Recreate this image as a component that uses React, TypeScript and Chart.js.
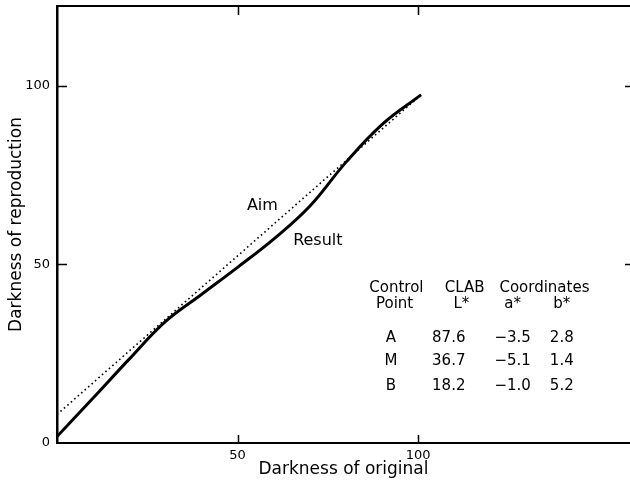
import React, { useEffect, useRef } from 'react';
import { Chart, registerables } from 'chart.js';

Chart.register(...registerables);

// ---- data ----
const aimX = [0, 100.8];
const aimY = [8, 97.5];
const resultX = [0, 10, 20, 30, 40, 50, 60, 70, 80, 90, 100.8];
const resultY = [1.8, 12.6, 23.5, 34.0, 41.6, 49.2, 57.1, 66.3, 78.6, 89.2, 97.5];
const xTicks = [50, 100];
const yTicks = [0, 50, 100];
const xTitle = 'Darkness of original';
const yTitle = 'Darkness of reproduction';
const curveLabels = ['Aim', 'Result'];
const tableHeader1 = ['Control', 'CLAB', 'Coordinates'];
const tableHeader2 = ['Point', 'L*', 'a*', 'b*'];
const controlPoints = ['A', 'M', 'B'];
const lStar = ['87.6', '36.7', '18.2'];
const aStar = ['−3.5', '−5.1', '−1.0'];
const bStar = ['2.8', '1.4', '5.2'];

const FONT = "'DejaVu Sans', sans-serif";

const framePlugin = {
  id: 'frameAndNotes',
  afterDatasetsDraw(chart: any) {
    const { ctx, chartArea, scales } = chart;
    const { left, right, top, bottom } = chartArea;
    const xs = scales.x;
    const ys = scales.y;
    ctx.save();
    ctx.strokeStyle = '#000';
    ctx.lineWidth = 2;
    ctx.beginPath();
    ctx.moveTo(left, top);
    ctx.lineTo(right, top);
    ctx.stroke();
    ctx.lineWidth = 1.5;
    ctx.beginPath();
    for (const v of xTicks) {
      const px = Math.round(xs.getPixelForValue(v)) + 0.5;
      ctx.moveTo(px, top);
      ctx.lineTo(px, top + 9);
      ctx.moveTo(px, bottom);
      ctx.lineTo(px, bottom - 8);
    }
    for (const v of yTicks) {
      if (v === 0) continue;
      const py = Math.round(ys.getPixelForValue(v)) + 0.5;
      ctx.moveTo(left, py);
      ctx.lineTo(left + 10, py);
      ctx.moveTo(right, py);
      ctx.lineTo(right - 5, py);
    }
    ctx.stroke();

    ctx.fillStyle = '#000';
    ctx.textBaseline = 'alphabetic';
    const put = (t: string, xv: number, yv: number, align: CanvasTextAlign) => {
      ctx.textAlign = align;
      ctx.fillText(t, xs.getPixelForValue(xv), ys.getPixelForValue(yv));
    };
    ctx.font = `16px ${FONT}`;
    put(curveLabels[0], 52.6, 65.3, 'left');
    put(curveLabels[1], 65.4, 55.5, 'left');

    ctx.font = `15px ${FONT}`;
    const cols = [93.5, 112, 126.2, 139.8];
    put(tableHeader1[0], 94, 42.4, 'center');
    put(tableHeader1[1], 112.9, 42.4, 'center');
    put(tableHeader1[2], 135, 42.4, 'center');
    tableHeader2.forEach((t, i) => put(t, cols[i], 37.8, 'center'));
    const rowY = [28.4, 21.8, 14.8];
    controlPoints.forEach((p, i) => {
      put(p, cols[0] - 1, rowY[i], 'center');
      put(lStar[i], cols[1] - 3.5, rowY[i], 'center');
      put(aStar[i], cols[2], rowY[i], 'center');
      put(bStar[i], cols[3], rowY[i], 'center');
    });
    ctx.restore();
  },
};

export default function App() {
  const ref = useRef<HTMLCanvasElement>(null);
  useEffect(() => {
    if (!ref.current) return;
    const chart = new Chart(ref.current, {
      type: 'line',
      data: {
        datasets: [
          {
            label: 'Aim',
            data: aimX.map((x, i) => ({ x, y: aimY[i] })),
            borderColor: '#000',
            borderWidth: 1.6,
            borderDash: [1.6, 3],
            pointRadius: 0,
            fill: false,
          },
          {
            label: 'Result',
            data: resultX.map((x, i) => ({ x, y: resultY[i] })),
            borderColor: '#000',
            borderWidth: 3,
            pointRadius: 0,
            tension: 0.4,
            fill: false,
          },
        ],
      },
      options: {
        responsive: false,
        animation: false,
        layout: { padding: { top: 6, right: 0, left: 0, bottom: 0 } },
        plugins: { legend: { display: false }, tooltip: { enabled: false } },
        scales: {
          x: {
            type: 'linear',
            min: 0,
            max: 158.7,
            afterBuildTicks: (s: any) => {
              s.ticks = xTicks.map((v) => ({ value: v }));
            },
            afterFit: (s: any) => {
              s.height = 40;
              s.paddingLeft = 0;
              s.paddingRight = 0;
              s.paddingTop = 0;
              s.paddingBottom = 0;
            },
            grid: { display: false, drawTicks: false },
            border: { display: true, color: '#000', width: 2 },
            ticks: {
              color: '#000',
              font: { family: FONT, size: 13 },
              padding: 5,
              maxRotation: 0,
              autoSkip: false,
            },
            title: {
              display: true,
              text: xTitle,
              color: '#000',
              font: { family: FONT, size: 17 },
              padding: { top: 0, bottom: 3 },
            },
          },
          y: {
            type: 'linear',
            min: 0,
            max: 122.4,
            afterBuildTicks: (s: any) => {
              s.ticks = yTicks.map((v) => ({ value: v }));
            },
            afterFit: (s: any) => {
              s.width = 57;
              s.paddingLeft = 0;
              s.paddingRight = 0;
              s.paddingTop = 0;
              s.paddingBottom = 0;
            },
            grid: { display: false, drawTicks: false },
            border: { display: true, color: '#000', width: 2.5 },
            ticks: {
              color: '#000',
              font: { family: FONT, size: 13 },
              padding: 7,
              autoSkip: false,
            },
            title: {
              display: true,
              text: yTitle,
              color: '#000',
              font: { family: FONT, size: 17 },
              padding: { top: 6, bottom: 0 },
            },
          },
        },
      },
      plugins: [framePlugin],
    } as any);
    return () => chart.destroy();
  }, []);
  return (
    <div style={{ position: 'fixed', left: 0, top: 0, width: 630, height: 483, background: '#fff' }}>
      <canvas ref={ref} width={630} height={483} style={{ display: 'block' }} />
    </div>
  );
}
